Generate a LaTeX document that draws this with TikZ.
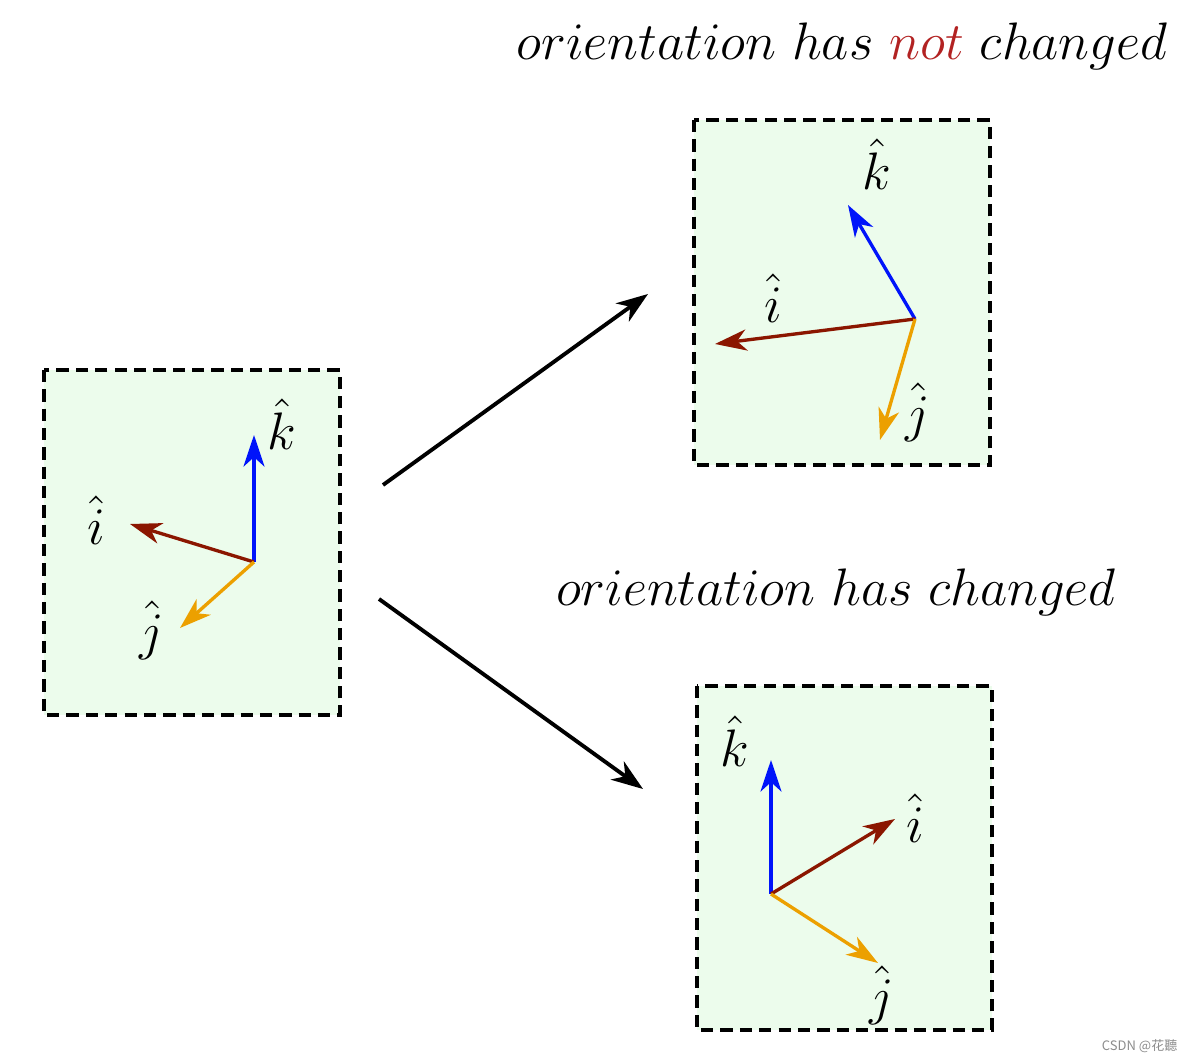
\RequirePackage{fix-cm}
\documentclass[tikz,border=0pt]{standalone}
\usepackage{amsmath}
\usepackage{amssymb}
\usepackage{fontspec}
\newfontfamily\cjk{Noto Sans CJK SC}
\usetikzlibrary{arrows.meta,positioning}

\definecolor{ivec}{RGB}{139,22,0}
\definecolor{jvec}{RGB}{236,160,0}
\definecolor{kvec}{RGB}{0,20,250}
\definecolor{notred}{RGB}{178,34,34}
\definecolor{boxgreen}{RGB}{236,252,236}

\tikzset{
  frame/.style={draw=black,line width=1.1pt,dash pattern=on 3.5pt off 2pt,fill=boxgreen},
  unitvec/.style={-{Stealth[length=9pt,width=6pt,inset=2.7pt]},line width=0.95pt},
  move/.style={-{Stealth[length=9pt,width=6.4pt,inset=2.8pt]},line width=1.1pt},
  lab/.style={font=\fontsize{15}{18}\selectfont,inner sep=0pt}
}

\begin{document}
\begin{tikzpicture}[x=0.01cm,y=-0.01cm]
\useasboundingbox (0,0) rectangle (1193,1061);

% before
\draw[frame] (44,370) rectangle (340,715);
\coordinate (o1) at (254,562);
\coordinate (k1) at (254,435);
\coordinate (i1) at (130,524);
\coordinate (j1) at (180,628);
\draw[unitvec,kvec] (o1) -- (k1);
\draw[unitvec,ivec] (o1) -- (i1);
\draw[unitvec,jvec] (o1) -- (j1);
\node[lab] (kl1) at (282,424) {$\hat{k}$};
\node[lab] (il1) at (96,520) {$\hat{i}$};
\node[lab] (jl1) at (152,630) {$\hat{j}$};

% not changed
\draw[frame] (694,120) rectangle (990,465);
\coordinate (o2) at (915,319);
\coordinate (k2) at (848,205);
\coordinate (i2) at (715,344);
\coordinate (j2) at (880,440);
\draw[unitvec,kvec] (o2) -- (k2);
\draw[unitvec,ivec] (o2) -- (i2);
\draw[unitvec,jvec] (o2) -- (j2);
\node[lab] (kl2) at (877,164) {$\hat{k}$};
\node[lab] (il2) at (773,298) {$\hat{i}$};
\node[lab] (jl2) at (918,412) {$\hat{j}$};

% changed
\draw[frame] (697,686) rectangle (992,1030);
\coordinate (o3) at (771,894);
\coordinate (k3) at (771,760);
\coordinate (i3) at (895,819);
\coordinate (j3) at (878,963);
\draw[unitvec,kvec] (o3) -- (k3);
\draw[unitvec,ivec] (o3) -- (i3);
\draw[unitvec,jvec] (o3) -- (j3);
\node[lab] (kl3) at (735,741) {$\hat{k}$};
\node[lab] (il3) at (915,818) {$\hat{i}$};
\node[lab] (jl3) at (882,995) {$\hat{j}$};

\coordinate (s1) at (383,485);
\coordinate (e1) at (648,294);
\coordinate (s2) at (379,599);
\coordinate (e2) at (643,789);
\draw[move] (s1) -- (e1);
\draw[move] (s2) -- (e2);

\node[lab] (t1) at (842,46) {$orientation\ has\ {\color{notred}not}\ changed$};
\node[lab] (t2) at (836,592) {$orientation\ has\ changed$};

\node[font=\cjk\fontsize{3.7}{4}\selectfont,text=black!45,anchor=east,inner sep=0pt] (wm) at (1178,1046) {CSDN @花聽};
\end{tikzpicture}
\end{document}
